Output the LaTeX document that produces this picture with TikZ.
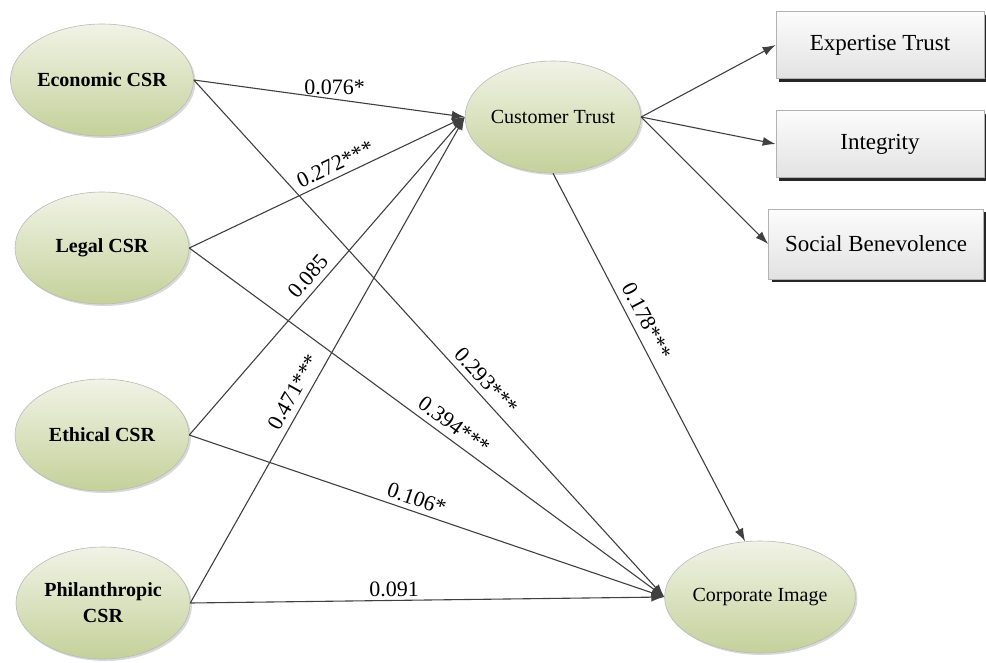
\documentclass[tikz,border=0pt]{standalone}
\usepackage{fontspec}
\setmainfont{Liberation Serif}
\usetikzlibrary{shapes.geometric,arrows.meta,shadows}
\definecolor{ln}{HTML}{404040}
\definecolor{elltop}{HTML}{F1F3E6}
\definecolor{ellbot}{HTML}{C4D19A}
\definecolor{boxtop}{HTML}{FCFCFC}
\definecolor{boxbot}{HTML}{E2E2E2}
\begin{document}
\begin{tikzpicture}[x=1pt,y=-1pt,
  latent/.style={ellipse, minimum width=174pt, minimum height=112pt, inner sep=0pt,
    draw=gray!55, line width=0.6pt, top color=elltop, bottom color=ellbot, align=center,
    drop shadow={shadow xshift=2pt, shadow yshift=-2pt, opacity=0.3, fill=gray}},
  cons/.style={latent, font=\bfseries\fontsize{20}{26}\selectfont},
  endo/.style={latent, font=\fontsize{20}{24}\selectfont},
  ind/.style={rectangle, draw=gray!60, line width=0.6pt, top color=boxtop, bottom color=boxbot,
    minimum height=67pt, inner sep=0pt, font=\fontsize{23}{26}\selectfont,
    drop shadow={shadow xshift=3pt, shadow yshift=-3pt, opacity=0.85, fill=black}},
  arr/.style={draw=ln, line width=1.1pt, -{Latex[length=13pt,width=9pt]}},
  lab/.style={font=\fontsize{22}{24}\selectfont, inner sep=1pt, text=black}
]
\useasboundingbox (0,0) rectangle (986,662);

\node[cons] (econ) at (102,80) {Economic CSR};
\node[cons] (legal) at (102,248) {Legal CSR};
\node[cons] (eth) at (102,435) {Ethical CSR};
\node[cons] (phil) at (103,603) {Philanthropic\\CSR};
\node[endo] (ct) at (553,117) {Customer Trust};
\node[endo] (ci) at (760,597) {Corporate Image};

\node[ind, minimum width=208pt] (exp) at (880,45) {Expertise Trust};
\node[ind, minimum width=208pt] (integ) at (880,144) {Integrity};
\node[ind, minimum width=215pt, minimum height=70pt] (soc) at (876,244) {Social Benevolence};

\draw[arr] (econ.east) -- node[lab, above=3pt, pos=.52] {0.076*} (ct.west);
\draw[arr] (legal.east) -- node[lab, above=4pt, sloped, pos=.55] {0.272***} (ct.west);
\draw[arr] (eth.east) -- node[lab, above=5pt, sloped, pos=.47] {0.085} (ct.west);
\draw[arr] (phil.east) -- node[lab, above=5pt, sloped, pos=.42] {0.471***} (ct.west);

\draw[arr] (econ.east) -- node[lab, above=5pt, sloped, pos=.6] {0.293***} (ci.west);
\draw[arr] (legal.east) -- node[lab, above=5pt, sloped, pos=.54] {0.394***} (ci.west);
\draw[arr] (eth.east) -- node[lab, above=4pt, sloped, pos=.47] {0.106*} (ci.west);
\draw[arr] (phil.east) -- node[lab, above=2pt, pos=.43] {0.091} (ci.west);

\draw[arr] (ct.south) -- node[lab, above=6pt, sloped, pos=.42] {0.178***} (ci.105);

\draw[arr] (ct.east) -- (exp.west);
\draw[arr] (ct.east) -- (integ.west);
\draw[arr] (ct.east) -- (soc.west);
\end{tikzpicture}
\end{document}
